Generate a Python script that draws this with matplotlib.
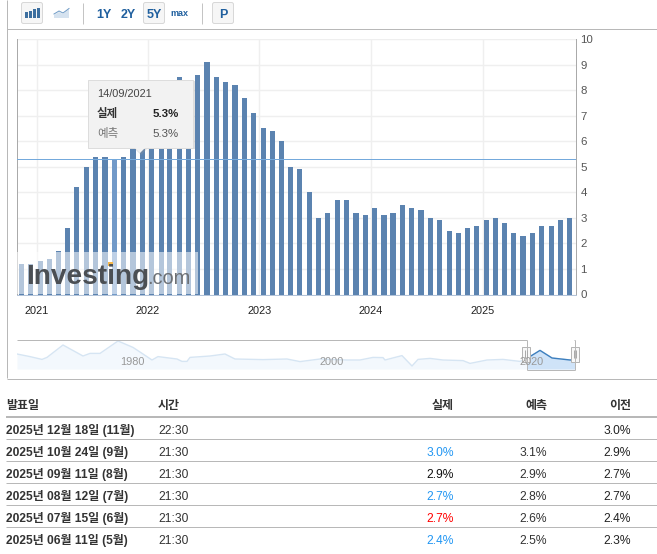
import matplotlib
matplotlib.use("Agg")
import matplotlib.pyplot as plt
import matplotlib.dates as mdates
from matplotlib.patches import Rectangle, FancyBboxPatch, Polygon
import numpy as np
import datetime as dt

plt.rcParams['font.family'] = ['Liberation Sans', 'Noto Sans CJK KR']

W, H = 657, 554
PX = 0.72  # points per pixel at dpi 100

bar_dates = [
    "2020-11-13", "2020-12-13", "2021-01-13", "2021-02-13", "2021-03-13", "2021-04-13",
    "2021-05-13", "2021-06-13", "2021-07-13", "2021-08-13", "2021-09-13", "2021-10-13",
    "2021-11-13", "2021-12-13", "2022-01-13", "2022-02-13", "2022-03-13", "2022-04-13",
    "2022-05-13", "2022-06-13", "2022-07-13", "2022-08-13", "2022-09-13", "2022-10-13",
    "2022-11-13", "2022-12-13", "2023-01-13", "2023-02-13", "2023-03-13", "2023-04-13",
    "2023-05-13", "2023-06-13", "2023-07-13", "2023-08-13", "2023-09-13", "2023-10-13",
    "2023-11-13", "2023-12-13", "2024-01-13", "2024-02-13", "2024-03-13", "2024-04-13",
    "2024-05-13", "2024-06-13", "2024-07-13", "2024-08-13", "2024-09-13", "2024-10-13",
    "2024-11-13", "2024-12-13", "2025-01-13", "2025-02-13", "2025-03-13", "2025-04-13",
    "2025-05-13", "2025-06-13", "2025-07-13", "2025-08-13", "2025-09-13", "2025-10-13",
]
actual_values = [
    1.2, 1.2, 1.3, 1.4, 1.7, 2.6, 4.2, 5.0, 5.4, 5.4, 5.3, 5.4,
    6.2, 6.8, 7.0, 7.5, 7.9, 8.5, 8.3, 8.6, 9.1, 8.5, 8.3, 8.2,
    7.7, 7.1, 6.5, 6.4, 6.0, 5.0, 4.9, 4.0, 3.0, 3.2, 3.7, 3.7,
    3.2, 3.1, 3.4, 3.1, 3.2, 3.5, 3.4, 3.3, 3.0, 2.9, 2.5, 2.4,
    2.6, 2.7, 2.9, 3.0, 2.8, 2.4, 2.3, 2.4, 2.7, 2.7, 2.9, 3.0,
]
hover_date = "2021-09-13"
hover_value = 5.3
year_ticks = [2021, 2022, 2023, 2024, 2025]
y_ticks = list(range(0, 11))

nav_years = [1968.5, 1969.8, 1971, 1971.5, 1973.1, 1974.3, 1975.1, 1975.8, 1976.8, 1978.6,
             1980.1, 1981.1, 1982, 1982.6, 1984.5, 1985, 1985.5, 1985.8, 1987.8, 1989.3,
             1990.3, 1993.1, 1995.5, 1996.8, 1998.8, 2001.5, 2002.8, 2004.1, 2005.1, 2005.3,
             2007, 2008, 2008.6, 2009.8, 2011.1, 2013.1, 2013.8, 2015.5, 2017.1, 2018.8,
             2019.5, 2020.8, 2022, 2023.8, 2024.3]
nav_values = [7.5, 6.2, 4.8, 5.8, 12, 8.7, 6.5, 7.8, 7.8, 14,
              10.8, 7.5, 4.5, 6.2, 5, 3.8, 3.8, 5.8, 6.5, 7.5,
              5, 4.7, 5, 3.7, 5, 4.5, 4.5, 5.8, 5.7, 4.5,
              6.7, 1.5, 4.8, 5.3, 4.5, 4.2, 2.8, 4.5, 4.8, 3.8,
              5.3, 9.3, 5.5, 4.5, 4.5]
nav_labels = [1980, 2000, 2020]

table_header = ["발표일", "시간", "실제", "예측", "이전"]
table_dates = ["2025년 12월 18일 (11월)", "2025년 10월 24일 (9월)", "2025년 09월 11일 (8월)",
               "2025년 08월 12일 (7월)", "2025년 07월 15일 (6월)", "2025년 06월 11일 (5월)"]
table_times = ["22:30", "21:30", "21:30", "21:30", "21:30", "21:30"]
table_actual = ["", "3.0%", "2.9%", "2.7%", "2.7%", "2.4%"]
table_forecast = ["", "3.1%", "2.9%", "2.8%", "2.6%", "2.5%"]
table_previous = ["3.0%", "2.9%", "2.7%", "2.7%", "2.4%", "2.3%"]
table_colors = ["#333333", "#2196f3", "#111111", "#2196f3", "#ff0000", "#2196f3"]

BAR = "#5b83b0"
HOVER = "#7199c8"
GREY = "#b8b8b8"
TXT = "#333333"

fig = plt.figure(figsize=(W / 100, H / 100), dpi=100, facecolor="white")


def axes_px(l, t, r, b, **kw):
    return fig.add_axes([l / W, 1 - b / H, (r - l) / W, (b - t) / H], **kw)


# ---------- main chart ----------
L, R, T, B = 16.5, 575.5, 39.0, 294.5
ax = axes_px(L, T, R, B, facecolor="white", zorder=1)
x = mdates.date2num([dt.date.fromisoformat(d) for d in bar_dates])
d0 = mdates.date2num(dt.date(2021, 1, 1))
d1 = mdates.date2num(dt.date(2025, 1, 1))
per_px = (d1 - d0) / (482.7 - 36.5)
ax.set_xlim(d0 + (L - 36.5) * per_px, d0 + (R - 36.5) * per_px)
ax.set_ylim(0, 10)
ax.set_axisbelow(True)
ax.grid(True, color="#efefef", lw=1.0)
colors = [HOVER if d == hover_date else BAR for d in bar_dates]
ax.bar(x, actual_values, width=5.2 * per_px, color=colors, linewidth=0, zorder=2)
ax.axhline(hover_value, color="#74a9dc", lw=PX, zorder=3)
ax.set_xticks([mdates.date2num(dt.date(y, 1, 1)) for y in year_ticks])
ax.set_xticklabels([str(y) for y in year_ticks], fontsize=11 * PX, color="#222222")
ax.set_yticks(y_ticks)
ax.yaxis.tick_right()
ax.set_yticklabels([str(v) for v in y_ticks], fontsize=11.5 * PX, color="#555555")
ax.tick_params(axis="both", length=0)
ax.tick_params(axis="x", pad=8)
ax.tick_params(axis="y", pad=3.6)
for s in ("left", "right"):
    ax.spines[s].set_color("#aaaaaa")
    ax.spines[s].set_linewidth(PX)
ax.spines["top"].set_visible(False)
ax.spines["bottom"].set_color("#b3c3d8")
ax.spines["bottom"].set_linewidth(PX)

# ---------- navigator ----------
NL, NR, NT, NB = 17.0, 574.5, 339.0, 369.0
nav = axes_px(NL, NT, NR, NB, facecolor="none", zorder=1)
ny0 = 1968.5
nav.set_xlim(ny0, ny0 + (NR - NL) / 10)
nav.set_ylim(0, 15)
ny = np.array(nav_years)
nv = np.array(nav_values)
nav.fill_between(ny, nv, 0, color="#f3f8fd", lw=0, zorder=1)
nav.plot(ny, nv, color="#d6e5f3", lw=1, zorder=2)
m = ny >= 2019.5
nav.fill_between(ny[m], nv[m], 0, color="#cfe3f8", lw=0, zorder=3)
nav.plot(ny[m], nv[m], color="#3d7fbe", lw=1.0, zorder=4)
nav.axis("off")

# ---------- overlay: page furniture drawn in pixel coordinates ----------
ov = fig.add_axes([0, 0, 1, 1], facecolor="none", zorder=5)
ov.set_xlim(0, W)
ov.set_ylim(H, 0)
ov.axis("off")


def hline(y, x0=6, x1=W, c=GREY, lw=1.0):
    ov.plot([x0, x1], [y, y], color=c, lw=lw * PX, solid_capstyle="butt")


def vline(x_, y0, y1, c=GREY, lw=1.0):
    ov.plot([x_, x_], [y0, y1], color=c, lw=lw * PX, solid_capstyle="butt")


def txt(x_, y, s, size=12, color=TXT, ha="left", weight="normal", **kw):
    return ov.text(x_, y + 0.36 * size, s, fontsize=size * PX, color=color, ha=ha,
                   va="baseline", fontweight=weight, **kw)


# frame
hline(28.5, 6.5, W)
vline(6.5, 0, 378)
hline(378.5, 6.5, W)

# toolbar
for bx, bw in ((21.5, 21), (143.5, 21), (212.5, 21)):
    ov.add_patch(FancyBboxPatch((bx, 2.5), bw, 21, boxstyle="round,pad=0,rounding_size=2",
                                fc="#f6f6f6", ec="#d8d8d8", lw=PX))
for ix, ih in zip((25, 29, 33, 37), (6, 7, 9, 10)):
    ov.add_patch(Rectangle((ix, 18 - ih), 2.6, ih, fc="#3d6f9f", lw=0))
ov.add_patch(Polygon([(54, 18), (54, 15), (59, 12), (63, 14), (69, 9), (69, 18)], fc="#d5e2ef", ec="none"))
ov.plot([54, 59, 63, 69], [14, 11, 13, 8.5], color="#6f9bc6", lw=PX)
vline(82.5, 3, 24, c="#c4c4c4")
vline(201.5, 3, 24, c="#c4c4c4")
txt(103.5, 13, "1Y", 12.5, "#1f5f9e", "center", "bold")
txt(128.5, 13, "2Y", 12.5, "#1f5f9e", "center", "bold")
txt(154, 13, "5Y", 12.5, "#1f5f9e", "center", "bold")
txt(179.5, 13, "max", 9, "#1f5f9e", "center", "bold")
txt(223, 13, "P", 12.5, "#1f5f9e", "center", "bold")

# watermark
ov.add_patch(Rectangle((L, 252), 198 - L, 42, fc="white", alpha=0.55, lw=0))
ov.text(26, 284, "Investing", fontsize=28 * PX, color="#4b4f54", fontweight="bold", ha="left", va="baseline")
ov.text(147, 284, ".com", fontsize=20 * PX, color="#6c7075", ha="left", va="baseline")
ov.add_patch(Rectangle((108, 261.5), 5, 4.5, fc="#f7b84b", lw=0))

# tooltip
ov.add_patch(Rectangle((89.5, 80.5), 105, 68.5, fc="#999999", alpha=0.3, lw=0))
ov.add_patch(Polygon([(134, 148), (141, 155), (148, 148)], fc="#999999", alpha=0.3, lw=0))
ov.add_patch(Rectangle((88, 79.5), 105, 68, fc="#f2f2f2", ec="#dddddd", lw=PX))
ov.add_patch(Polygon([(134, 147), (140, 153), (146, 147)], fc="#f2f2f2", ec="none"))
txt(97, 93, "14/09/2021", 11, "#444444")
txt(97, 113, "실제", 11.5, "#333333", weight="bold")
txt(179, 113, "5.3%", 11.5, "#222222", "right", "bold")
txt(97, 133, "예측", 11.5, "#777777")
txt(179, 133, "5.3%", 11.5, "#555555", "right")

# navigator furniture
hline(339.5, 17, 526.5)
hline(339.5, 574, 575)
vline(526.5, 339.5, 369.5)
vline(574.5, 339.5, 369.5)
hline(369.5, 526.5, 574.5)
for lab, lx in zip(nav_labels, (132, 332, 532)):
    txt(lx, 361, str(lab), 11, "#999999", "center")
for hx in (525.5, 574.5):
    ov.add_patch(Rectangle((hx - 4, 346.5), 8, 15, fc="#f8f8f8", ec="#b5b5b5", lw=PX))
    vline(hx - 1, 350, 358, c="#aaaaaa")
    vline(hx + 1, 350, 358, c="#aaaaaa")

# table
cols_r = (453.7, 547, 630.7)
txt(6, 405, table_header[0], 12, TXT, weight="bold")
txt(158, 405, table_header[1], 12, TXT, weight="bold")
for cx, s in zip(cols_r, table_header[2:]):
    txt(cx, 405, s, 12, TXT, "right", "bold")
hline(417, 6, W, lw=2)
for i in range(6):
    y = 429.3 + 22 * i
    txt(6, y, table_dates[i], 12, TXT, weight="bold")
    txt(158, y, table_times[i], 12, TXT)
    txt(cols_r[0], y, table_actual[i], 12, table_colors[i], "right")
    txt(cols_r[1], y, table_forecast[i], 12, TXT, "right")
    txt(cols_r[2], y, table_previous[i], 12, "#222222", "right")
    if i < 5:
        hline(round(y + 10) - 0.5 + 0.5, 6, W)

fig.savefig("out.png", dpi=100)
